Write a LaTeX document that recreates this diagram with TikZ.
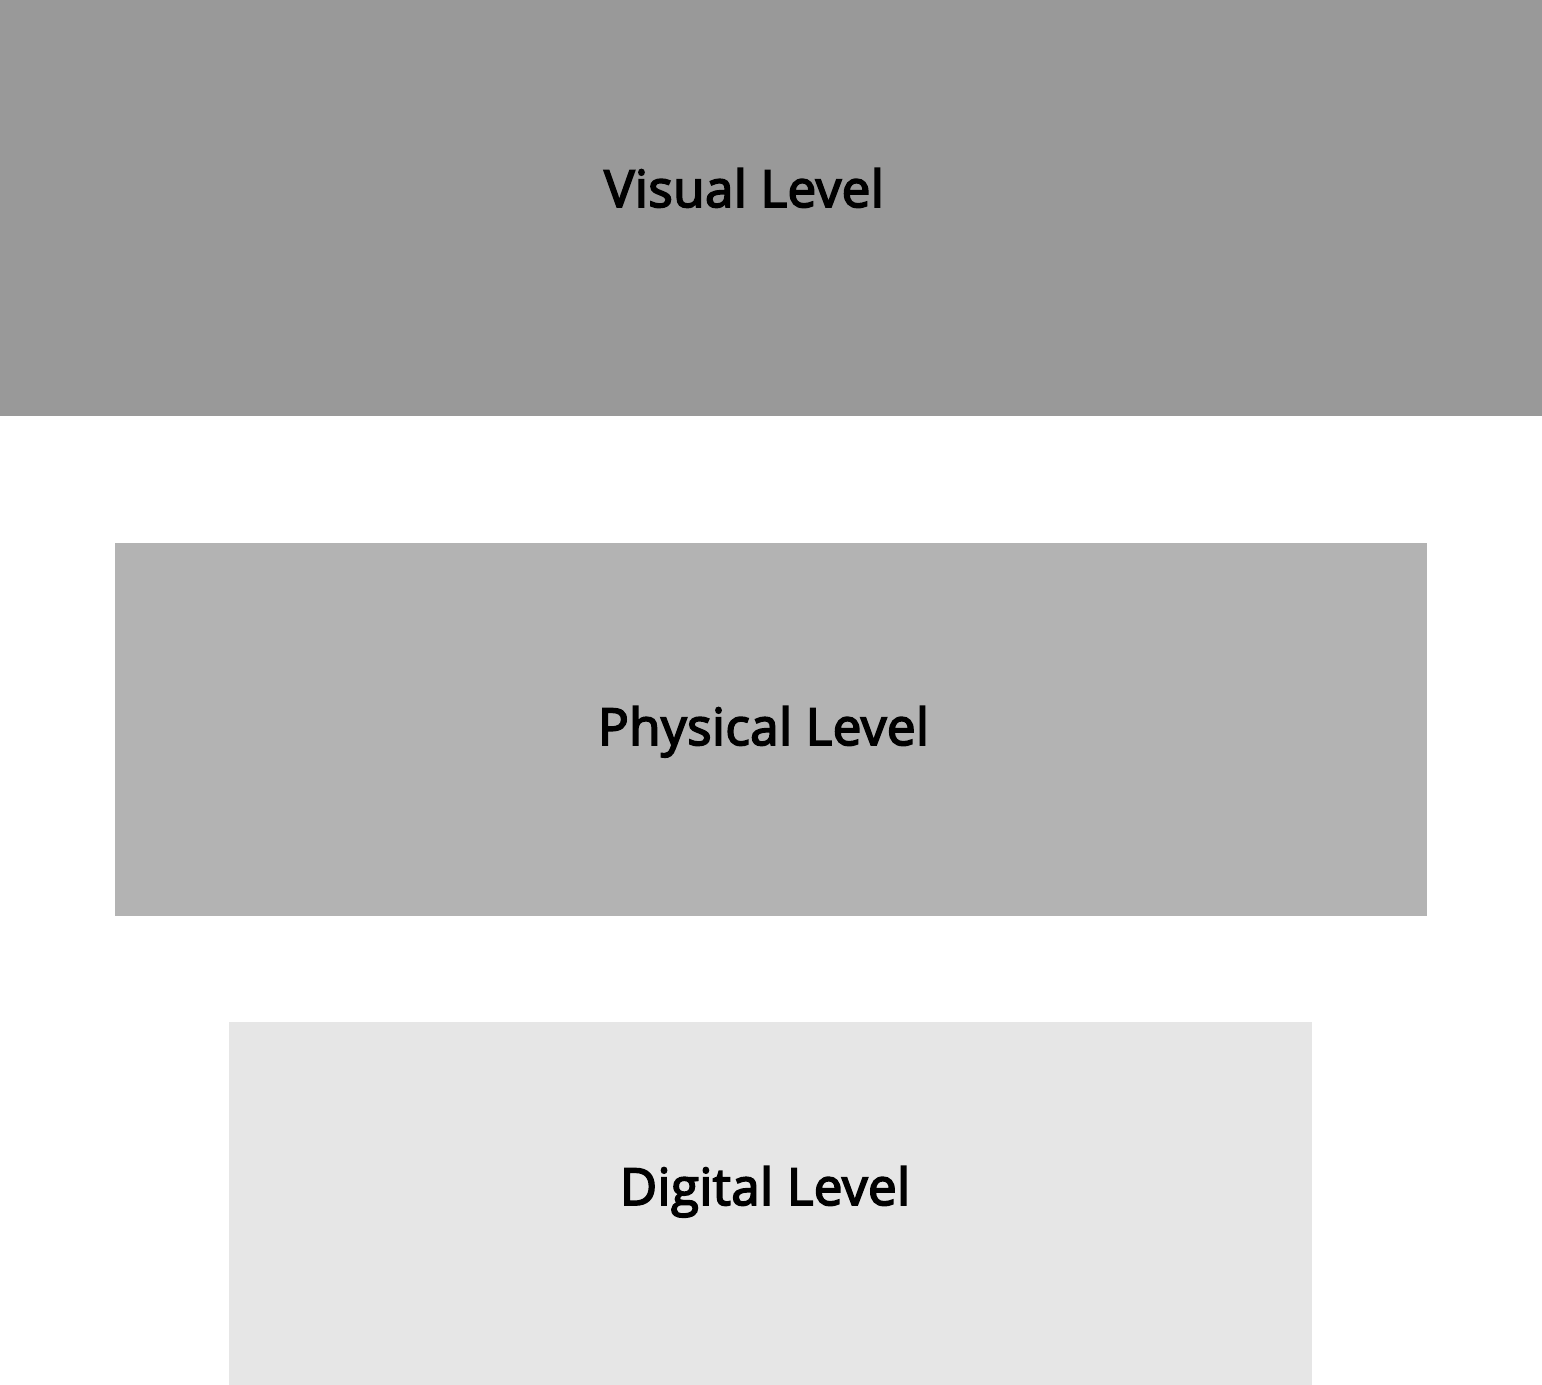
\documentclass[tikz,border=0pt]{standalone}
\usepackage{fontspec}
\setmainfont{Open Sans}
\newfontfamily\semib{Open Sans}[FakeBold=3.5,LetterSpace=1]
\begin{document}
\begin{tikzpicture}[x=0.5pt,y=-0.5pt]
\tikzset{
  level/.style={draw=none},
  lbl/.style={font=\semib\fontsize{25.5}{32}\selectfont, text=black, anchor=base, inner sep=0pt}
}
\useasboundingbox (0,0) rectangle (1542,1385);
\fill[level, fill={rgb,255:red,153;green,153;blue,153}] (0,0) rectangle (1542,416);
\fill[level, fill={rgb,255:red,179;green,179;blue,179}] (115,543) rectangle (1427,916);
\fill[level, fill={rgb,255:red,230;green,230;blue,230}] (229,1022) rectangle (1312,1385);
\node[lbl] (visual) at (744,207) {Visual Level};
\node[lbl] (physical) at (763.5,745) {Physical Level};
\node[lbl] (digital) at (765,1205) {Digital Level};
\end{tikzpicture}
\end{document}
